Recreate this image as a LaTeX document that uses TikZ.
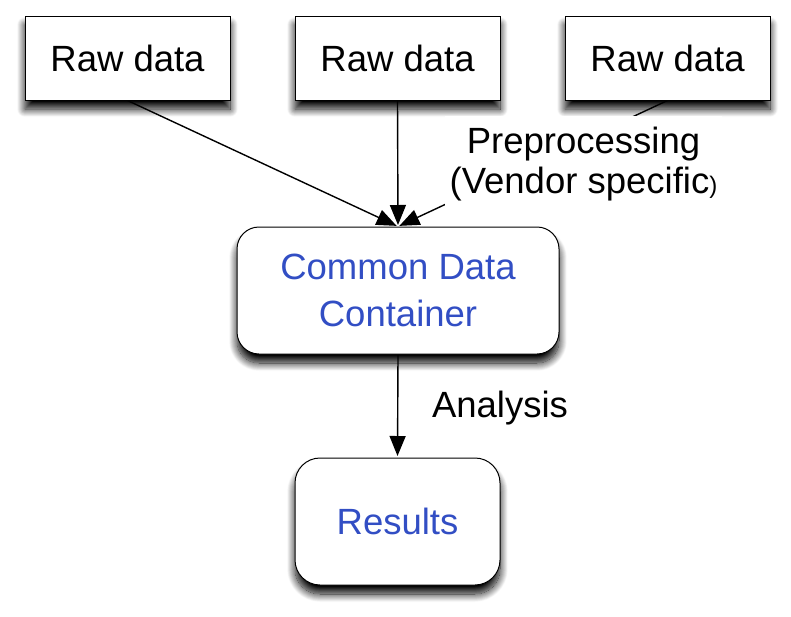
\documentclass[tikz,border=0pt]{standalone}
\usepackage{fontspec}
\setmainfont{Liberation Sans}
\usetikzlibrary{arrows.meta,shadows.blur}
\pgfdeclarelayer{bg}
\pgfsetlayers{bg,main}
\definecolor{txtblue}{RGB}{50,78,196}
\tikzset{
  boxshadow/.style={blur shadow={shadow xshift=0pt,shadow yshift=-9pt,shadow blur radius=8pt,shadow blur steps=16,shadow opacity=100}},
  rawbox/.style={draw=black,line width=1pt,fill=white,minimum width=205pt,minimum height=84pt,inner sep=0pt,boxshadow,font=\fontsize{36.5}{42}\selectfont},
  roundbox/.style={draw=black,line width=1pt,fill=white,rounded corners=22pt,inner sep=0pt,align=center,text=txtblue,boxshadow,font=\fontsize{36.5}{47}\selectfont},
  lbl/.style={inner sep=0pt,align=center,font=\fontsize{36.5}{40}\selectfont},
  arr/.style={line width=1.4pt,shorten >=1.5pt,-{Triangle[length=20pt,width=16pt]}}
}
\begin{document}
\begin{tikzpicture}[x=1pt,y=-1pt]
\useasboundingbox (0,0) rectangle (791,616);
\node[rawbox] (r1) at (127.5,58) {Raw data};
\node[rawbox] (r2) at (397.5,58) {Raw data};
\node[rawbox] (r3) at (667.5,58) {Raw data};
\node[roundbox,minimum width=322pt,minimum height=127pt] (cdc) at (398,290.5) {Common Data\\Container};
\node[roundbox,minimum width=205pt,minimum height=127pt,rounded corners=25pt] (res) at (397.5,521.5) {Results};
\node[lbl,fill=white,minimum width=277pt,minimum height=96pt] (pre) at (583.5,164) {Preprocessing\\(Vendor specific{\fontsize{24}{24}\selectfont )}};
\node[lbl] (ana) at (500,408) {Analysis};
\begin{pgfonlayer}{bg}
\draw[arr] (r1.south) -- (cdc.north);
\draw[arr] (r2.south) -- (cdc.north);
\draw[arr] (r3.south) -- (cdc.north);
\draw[arr] (cdc.south) -- (res.north);
\end{pgfonlayer}
\end{tikzpicture}
\end{document}
